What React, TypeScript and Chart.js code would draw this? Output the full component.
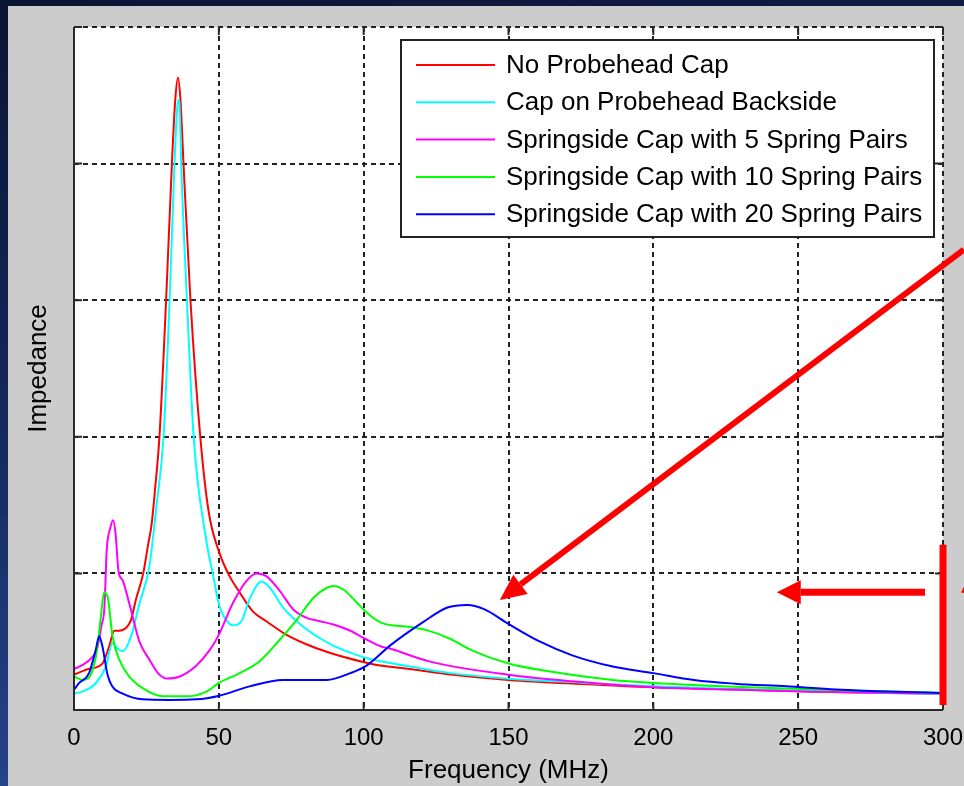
import React, { useEffect, useRef } from "react";
import { Chart, registerables } from "chart.js";

Chart.register(...registerables);

// ---------- data ----------
const xTickValues = [0, 50, 100, 150, 200, 250, 300];
const yTickValues = [0, 1, 2, 3, 4, 5];

const seriesLabels = [
  "No Probehead Cap",
  "Cap on Probehead Backside",
  "Springside Cap with 5 Spring Pairs",
  "Springside Cap with 10 Spring Pairs",
  "Springside Cap with 20 Spring Pairs",
];
const seriesColors = ["#ff0000", "#00ffff", "#ff00ff", "#00ff00", "#0000ff"];

const freqRed = [0, 5, 9.8, 12.2, 13.9, 15.6, 17.9, 19.7, 21.4, 23.9, 25.5, 26.8, 28, 29.5, 31.8, 33.8, 34.9, 35.9, 36.8, 37.8, 40.2, 43.6, 46.5, 50.2, 53.7, 57.2, 61.8, 66.4, 73.4, 81.5, 89.6, 98.8, 105.8, 116, 130, 150, 175, 200, 230, 256, 280, 300];
const impRed = [0.26, 0.3, 0.34, 0.47, 0.58, 0.58, 0.6, 0.66, 0.81, 1.0, 1.2, 1.36, 1.62, 2.0, 3.0, 4.0, 4.45, 4.63, 4.45, 4.0, 3.0, 2.0, 1.45, 1.15, 0.98, 0.86, 0.72, 0.65, 0.55, 0.47, 0.41, 0.357, 0.325, 0.3, 0.26, 0.22, 0.19, 0.166, 0.15, 0.133, 0.125, 0.12];

const freqCyan = [0, 2.9, 7.5, 11, 13.3, 15, 16.8, 19.7, 22.6, 26, 28.5, 30.9, 33, 34.7, 35.6, 36.4, 37, 39, 41.3, 45.6, 47.9, 50.2, 52.5, 54.9, 57.8, 60.6, 64.7, 67.6, 72.2, 78, 83.8, 89.6, 95.4, 101, 105.8, 116, 130, 150, 175, 200, 230, 256, 280, 300];
const impCyan = [0.122, 0.135, 0.196, 0.32, 0.49, 0.45, 0.43, 0.54, 0.78, 1.05, 1.5, 2.0, 3.0, 4.0, 4.4, 4.47, 4.0, 3.0, 2.0, 1.25, 1.0, 0.76, 0.66, 0.62, 0.65, 0.81, 0.94, 0.895, 0.75, 0.63, 0.54, 0.47, 0.42, 0.38, 0.357, 0.318, 0.27, 0.229, 0.2, 0.173, 0.152, 0.137, 0.125, 0.118];

const freqMagenta = [0, 3, 6, 8, 9.5, 10.5, 11.3, 12.5, 13.5, 14.3, 15.4, 16.8, 18.2, 19.7, 22.6, 26, 29, 32, 36.5, 42, 46.9, 50, 54.9, 59.5, 63, 66.4, 71.1, 75.7, 80.3, 84.9, 89.6, 95.4, 101, 105.8, 109, 123, 150, 172, 200, 228, 256, 300];
const impMagenta = [0.3, 0.33, 0.38, 0.45, 0.62, 0.75, 1.17, 1.33, 1.39, 1.3, 1.01, 0.95, 0.85, 0.73, 0.5, 0.37, 0.27, 0.23, 0.245, 0.32, 0.44, 0.55, 0.785, 0.944, 1.0, 0.98, 0.87, 0.736, 0.675, 0.65, 0.626, 0.58, 0.516, 0.467, 0.45, 0.354, 0.258, 0.21, 0.166, 0.15, 0.133, 0.12];

const freqGreen = [0, 2.9, 6.4, 8, 9.2, 10.4, 11.6, 13.3, 15.6, 19.1, 23.7, 30.7, 38.8, 45.7, 50.2, 57.2, 64.1, 71.1, 76.9, 82.6, 87.3, 89.6, 93.1, 97.7, 101.2, 106, 116, 122, 130, 137, 150, 165, 186, 200, 228, 256, 300];
const impGreen = [0.245, 0.22, 0.29, 0.45, 0.67, 0.86, 0.83, 0.54, 0.37, 0.245, 0.16, 0.1, 0.1, 0.135, 0.2, 0.27, 0.357, 0.516, 0.66, 0.82, 0.895, 0.907, 0.88, 0.785, 0.71, 0.64, 0.607, 0.583, 0.52, 0.44, 0.34, 0.28, 0.22, 0.198, 0.17, 0.15, 0.125];

const freqBlue = [0, 1.7, 5.2, 7.5, 8.7, 9.8, 11.6, 13.3, 16.8, 23.7, 33, 42.2, 50.2, 60.6, 72.2, 87.3, 95.4, 101, 109.3, 120.5, 128.9, 135.8, 141.4, 150, 160.9, 172, 186, 200, 214, 228, 246, 263, 283.8, 300];
const impBlue = [0.147, 0.196, 0.27, 0.44, 0.54, 0.466, 0.257, 0.17, 0.12, 0.078, 0.074, 0.078, 0.105, 0.173, 0.22, 0.22, 0.27, 0.325, 0.475, 0.643, 0.75, 0.769, 0.74, 0.63, 0.5, 0.4, 0.318, 0.27, 0.22, 0.193, 0.173, 0.15, 0.133, 0.125];

const seriesFreqs = [freqRed, freqCyan, freqMagenta, freqGreen, freqBlue];
const seriesImps = [impRed, impCyan, impMagenta, impGreen, impBlue];

// annotation arrows, in data units (MHz, impedance)
const diagArrowTail = [307.2, 3.37];
const diagArrowTip = [147.0, 0.805];
const horizArrowTail = [293.8, 0.862];
const horizArrowTip = [242.6, 0.862];
const redBarX = 300;
const redBarRange = [0.037, 1.21];
const edgeArrowTip = [310, 1.02];

const FONT = "'Liberation Sans', Arial, Helvetica, sans-serif";

function drawArrow(ctx: CanvasRenderingContext2D, x1: number, y1: number, x2: number, y2: number, shaftW: number, headLen: number, headHalf: number) {
  const ang = Math.atan2(y2 - y1, x2 - x1);
  const bx = x2 - headLen * Math.cos(ang);
  const by = y2 - headLen * Math.sin(ang);
  ctx.save();
  ctx.strokeStyle = "#ff0000";
  ctx.fillStyle = "#ff0000";
  ctx.lineWidth = shaftW;
  ctx.lineCap = "butt";
  ctx.beginPath();
  ctx.moveTo(x1, y1);
  ctx.lineTo(bx, by);
  ctx.stroke();
  const nx = -Math.sin(ang), ny = Math.cos(ang);
  ctx.beginPath();
  ctx.moveTo(x2, y2);
  ctx.lineTo(bx + nx * headHalf, by + ny * headHalf);
  ctx.lineTo(bx - nx * headHalf, by - ny * headHalf);
  ctx.closePath();
  ctx.fill();
  ctx.restore();
}

const decorPlugin = {
  id: "decor",
  beforeDraw(chart: any) {
    const { ctx, chartArea: a } = chart;
    ctx.save();
    ctx.fillStyle = "#ffffff";
    ctx.fillRect(a.left, a.top, a.right - a.left, a.bottom - a.top);
    ctx.restore();
  },
  afterDraw(chart: any) {
    const { ctx, chartArea: a, scales } = chart;
    const xs = scales.x, ys = scales.y;
    ctx.save();
    // solid axes (left, bottom)
    ctx.strokeStyle = "#2a2a2a";
    ctx.lineWidth = 2;
    ctx.beginPath();
    ctx.moveTo(a.left, a.top);
    ctx.lineTo(a.left, a.bottom);
    ctx.lineTo(a.right, a.bottom);
    ctx.stroke();
    // inward ticks
    const tl = 8;
    ctx.beginPath();
    xTickValues.forEach((v) => {
      const px = xs.getPixelForValue(v);
      ctx.moveTo(px, a.bottom);
      ctx.lineTo(px, a.bottom - tl);
      ctx.moveTo(px, a.top);
      ctx.lineTo(px, a.top + tl);
    });
    yTickValues.forEach((v) => {
      const py = ys.getPixelForValue(v);
      ctx.moveTo(a.left, py);
      ctx.lineTo(a.left + tl, py);
      ctx.moveTo(a.right, py);
      ctx.lineTo(a.right - tl, py);
    });
    ctx.stroke();

    // legend box
    const bx = a.left + 327, by = a.top + 13;
    const bw = a.right - 9 - bx, bh = 197;
    ctx.fillStyle = "#ffffff";
    ctx.fillRect(bx, by, bw, bh);
    ctx.strokeStyle = "#222222";
    ctx.lineWidth = 2;
    ctx.strokeRect(bx, by, bw, bh);
    ctx.font = `26px ${FONT}`;
    ctx.textBaseline = "middle";
    ctx.textAlign = "left";
    chart.data.datasets.forEach((ds: any, i: number) => {
      const ry = by + 25 + i * 37.3;
      ctx.strokeStyle = ds.borderColor;
      ctx.lineWidth = 2;
      ctx.beginPath();
      ctx.moveTo(bx + 15, ry);
      ctx.lineTo(bx + 94, ry);
      ctx.stroke();
      ctx.fillStyle = "#000000";
      ctx.fillText(ds.label, bx + 105, ry + 1);
    });
    ctx.restore();

    // red annotation arrows
    const P = (p: number[]) => [xs.getPixelForValue(p[0]), ys.getPixelForValue(p[1])];
    const [dx1, dy1] = P(diagArrowTail);
    const [dx2, dy2] = P(diagArrowTip);
    drawArrow(ctx, dx1, dy1, dx2, dy2, 6, 26, 12);
    const [hx1, hy1] = P(horizArrowTail);
    const [hx2, hy2] = P(horizArrowTip);
    drawArrow(ctx, hx1, hy1, hx2, hy2, 7, 24, 12);
    ctx.save();
    ctx.strokeStyle = "#ff0000";
    ctx.lineWidth = 7;
    ctx.beginPath();
    ctx.moveTo(xs.getPixelForValue(redBarX), ys.getPixelForValue(redBarRange[0]));
    ctx.lineTo(xs.getPixelForValue(redBarX), ys.getPixelForValue(redBarRange[1]));
    ctx.stroke();
    const [ex, ey] = P(edgeArrowTip);
    ctx.fillStyle = "#ff0000";
    ctx.beginPath();
    ctx.moveTo(ex, ey);
    ctx.lineTo(ex - 11, ey + 22);
    ctx.lineTo(ex + 11, ey + 22);
    ctx.closePath();
    ctx.fill();
    ctx.restore();
  },
};

export default function App() {
  const canvasRef = useRef<HTMLCanvasElement | null>(null);

  useEffect(() => {
    const canvas = canvasRef.current;
    if (!canvas) return;
    const datasets = seriesLabels.map((label, i) => ({
      label,
      data: seriesFreqs[i].map((f, j) => ({ x: f, y: seriesImps[i][j] })),
      borderColor: seriesColors[i],
      backgroundColor: seriesColors[i],
      borderWidth: 2,
      pointRadius: 0,
      fill: false,
      cubicInterpolationMode: "monotone" as const,
      order: 5 - i,
    }));
    const chart = new Chart(canvas, {
      type: "line",
      data: { datasets },
      plugins: [decorPlugin],
      options: {
        animation: false,
        responsive: false,
        maintainAspectRatio: false,
        layout: { padding: { left: 0, right: 21, top: 21, bottom: 0 } },
        plugins: { legend: { display: false }, tooltip: { enabled: false } },
        scales: {
          x: {
            type: "linear",
            min: 0,
            max: 300,
            afterFit: (s: any) => { s.height = 76; s.paddingLeft = 0; s.paddingRight = 0; },
            ticks: { stepSize: 50, padding: 14, color: "#000", font: { family: FONT, size: 24 }, maxRotation: 0 },
            grid: { color: "#222", lineWidth: 2, drawTicks: false },
            border: { display: false, dash: [5, 4] },
            title: { display: true, text: "Frequency (MHz)", color: "#000", font: { family: FONT, size: 26 }, padding: { top: 0, bottom: 0 } },
          },
          y: {
            type: "linear",
            min: 0,
            max: 5,
            afterFit: (s: any) => { s.width = 66; s.paddingTop = 0; s.paddingBottom = 0; },
            ticks: { stepSize: 1, display: false },
            grid: { color: "#222", lineWidth: 2, drawTicks: false },
            border: { display: false, dash: [5, 4] },
            title: { display: true, text: "Impedance", color: "#000", font: { family: FONT, size: 26 }, padding: { top: 15, bottom: 0 } },
          },
        },
      },
    });
    return () => chart.destroy();
  }, []);

  return (
    <div
      style={{
        position: "fixed",
        left: 0,
        top: 0,
        width: 964,
        height: 786,
        overflow: "hidden",
        background: "linear-gradient(170deg, #0a1533 0%, #132657 40%, #2c4f9c 100%)",
      }}
    >
      <div style={{ position: "absolute", left: 8, top: 6, width: 956, height: 780, background: "#cccccc" }}>
        <canvas ref={canvasRef} width={956} height={780} style={{ width: 956, height: 780, display: "block" }} />
      </div>
    </div>
  );
}
